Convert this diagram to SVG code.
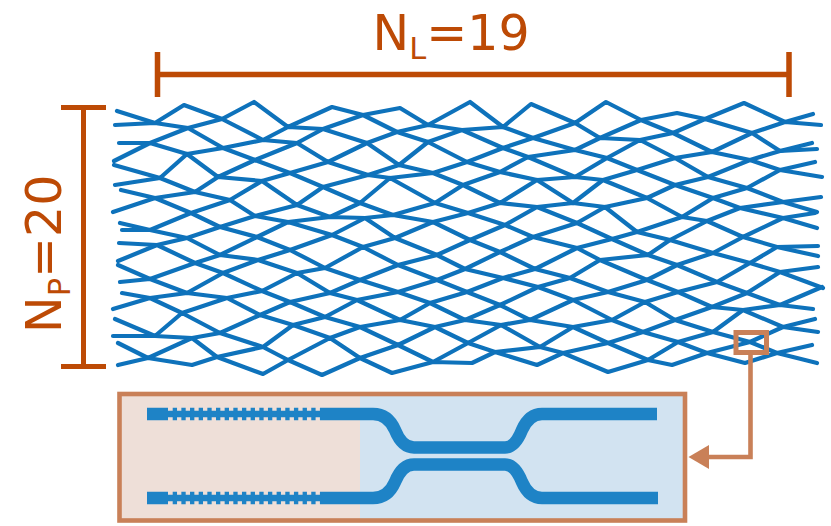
<svg xmlns="http://www.w3.org/2000/svg" width="831" height="526" viewBox="0 0 831 526">
<style>
.t{font-family:"DejaVu Sans",sans-serif;fill:#bd4a05}
.dim{fill:none;stroke:#bd4a05;stroke-width:5}
.mesh polyline{fill:none;stroke:#0e72bb;stroke-width:4.2;stroke-linejoin:round;stroke-linecap:round}
.wg{fill:none;stroke:#1e83c6;stroke-width:12.5}
.tooth{fill:none;stroke:#1e83c6;stroke-width:12.5;stroke-dasharray:4.33 4.33}
.core{fill:none;stroke:#1e83c6;stroke-width:6.5}
.ol{fill:none;stroke:#c98058;stroke-width:4.6}
</style>
<rect width="831" height="526" fill="#fff"/>
<g id="mesh" class="mesh">
<polyline points="117,111 155,123 184,105 222,119 254,102 288,127 332,107 363,115 400,108 428,125 470,102 503,127 531,104 575,123 606,102 641,120 677,113 705,119 744,103 785,122 813,114"/>
<polyline points="115,125 155,123 188,128 222,119 263,140 288,127 323,129 363,115 397,132 428,125 462,130 503,127 533,138 575,123 600,138 641,120 673,133 705,119 752,133 785,122 821,125"/>
<polyline points="119,143 150,143 188,128 223,148 263,140 297,143 323,129 367,143 397,132 428,142 462,130 503,148 533,138 575,150 600,138 640,140 673,133 712,152 752,133 780,151 812,143"/>
<polyline points="114,161 150,143 187,154 223,148 255,160 297,143 328,162 367,143 399,165 428,142 467,162 503,148 528,157 575,150 607,158 640,140 675,158 712,152 750,160 780,151 817,149"/>
<polyline points="114,165 160,178 187,154 218,177 255,160 290,173 328,162 368,175 399,165 433,173 467,162 500,172 528,157 575,177 607,158 637,170 675,158 708,177 750,160 780,170 815,162"/>
<polyline points="115,185 160,178 195,192 218,177 262,181 290,173 323,187 368,175 390,178 433,173 463,185 500,172 537,180 575,177 603,180 637,170 675,185 708,177 747,188 780,170 822,177"/>
<polyline points="121,190 155,198 195,192 230,200 262,181 297,205 323,187 360,203 390,178 435,203 463,185 500,203 537,180 573,203 603,180 647,198 675,185 713,198 747,188 783,202 821,197"/>
<polyline points="113,212 155,198 191,213 230,200 255,216 297,205 330,217 360,203 393,215 435,203 468,213 500,203 537,207 573,203 605,207 647,198 682,217 713,198 740,208 783,202 817,212"/>
<polyline points="120,223 150,230 191,213 220,227 255,216 288,222 330,217 365,218 393,215 433,222 468,213 505,225 537,207 577,223 605,207 637,232 682,217 707,221 740,208 783,218 815,213"/>
<polyline points="122,230 150,230 187,238 220,227 257,237 288,222 332,235 365,218 395,238 433,222 470,240 505,225 533,237 577,223 612,239 637,232 670,240 707,221 743,237 783,218 817,228"/>
<polyline points="119,243 157,245 187,238 220,255 257,237 290,250 332,235 363,247 395,238 437,255 470,240 500,252 533,237 577,248 612,239 648,255 670,240 713,253 743,237 777,247 818,246"/>
<polyline points="118,261 157,245 195,263 220,255 258,260 290,250 325,268 363,247 398,265 437,255 465,269 500,252 535,269 577,248 600,260 648,255 677,265 713,253 750,263 777,247 818,256"/>
<polyline points="118,265 150,279 195,263 223,273 258,260 297,273 325,268 360,280 398,265 437,280 465,269 503,278 535,269 570,278 600,260 647,280 677,265 717,282 750,263 780,272 818,267"/>
<polyline points="120,282 150,279 187,293 223,273 262,291 297,273 330,293 360,280 398,292 437,280 467,292 503,278 538,287 570,278 608,292 647,280 678,292 717,282 747,293 780,272 823,288"/>
<polyline points="122,293 150,298 187,293 227,298 262,291 290,302 330,293 357,300 398,292 430,303 467,292 500,305 538,287 573,300 608,292 645,302 678,292 712,307 747,293 780,305 822,287"/>
<polyline points="113,309 150,298 182,313 227,298 260,315 290,302 325,317 357,300 400,320 430,303 465,320 500,305 530,320 573,300 612,320 645,302 675,320 712,307 743,310 780,305 813,309"/>
<polyline points="115,319 155,336 182,313 220,333 260,315 293,325 325,317 360,327 400,320 435,327 465,320 501,325 530,320 573,327 612,320 643,332 675,320 713,332 743,310 783,327 815,319"/>
<polyline points="113,336 155,336 192,338 220,333 263,347 293,325 330,338 360,327 398,345 435,327 468,343 501,325 540,347 573,327 608,343 643,332 678,342 713,332 750,342 783,327 818,332"/>
<polyline points="118,343 148,358 192,338 217,357 263,347 288,360 330,338 360,358 398,345 433,362 468,343 495,352 540,347 563,353 608,343 648,360 678,342 707,353 750,342 777,353 812,345"/>
<polyline points="118,365 148,358 192,365 217,357 263,374 288,360 322,375 360,358 392,373 433,362 472,363 495,352 537,365 563,353 608,372 648,360 672,365 707,353 745,363 777,353 817,363"/>
</g>
<g id="dim-layers">
<path class="dim" d="M157.500 52V97M157.500 74.500H789M789 52V97" style="stroke-width:5.500"/>
<text class="t" x="372.500" y="50" font-size="49">N<tspan font-size="30.500" dy="9">L</tspan><tspan dy="-9">=19</tspan></text>
</g>
<g id="dim-paths">
<path class="dim" d="M61 107.500H106M83.500 107.500V366.500M61 366.500H106"/>
<text class="t" transform="translate(61,333) rotate(-90)" font-size="49">N<tspan font-size="30.500" dy="9">P</tspan><tspan dy="-9">=20</tspan></text>
</g>
<g id="inset">
<rect x="119.500" y="394" width="241" height="126.500" fill="#eedfd8"/>
<rect x="360" y="394" width="325" height="126.500" fill="#d2e3f1"/>
<path class="wg" d="M147 414H168M321 414H373Q388 414 395 430Q402 447.500 414 447.500H505Q515 447.500 522 430Q529 414 542 414H657"/>
<path class="wg" d="M147 498H168M321 498H373Q388 498 395 482Q402 464.500 414 464.500H505Q515 464.500 522 482Q529 498 542 498H658"/>
<path class="core" d="M168 414H321M168 498H321"/>
<path class="tooth" d="M172.700 414H321M172.700 498H321"/>
<rect class="ol" x="119.500" y="394" width="565.500" height="126.500"/>
</g>
<g id="connector">
<rect class="ol" x="736" y="332.500" width="30.500" height="20" style="stroke-width:5"/>
<path class="ol" d="M750.500 354V457H705"/>
<polygon points="688.500,457 709,445 709,469" fill="#c98058"/>
</g>
</svg>
